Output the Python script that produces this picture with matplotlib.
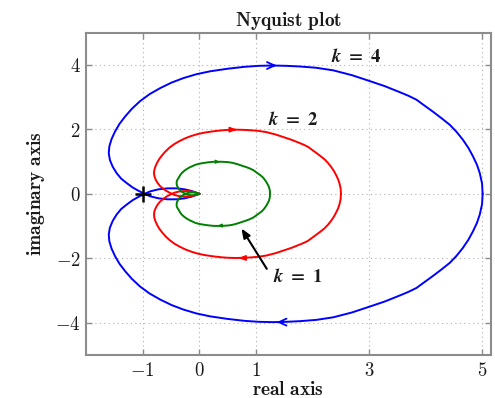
import numpy as np
import matplotlib
matplotlib.use("Agg")
import matplotlib.pyplot as plt

# upper half of each Nyquist curve (lower half is its mirror)
blue_re = [5.01, 5.00, 4.96, 4.91, 4.84, 4.76, 4.66, 4.55, 4.43, 4.28,
           4.13, 3.98, 3.84, 3.70, 3.55, 3.28, 3.01, 2.70, 2.37, 2.07,
           1.78, 1.54, 1.30, 1.05, 0.80, 0.50, 0.19, -0.05, -0.28, -0.49,
           -0.69, -0.88, -1.05, -1.19, -1.31, -1.41, -1.49, -1.55, -1.59, -1.60,
           -1.58, -1.53, -1.46, -1.38, -1.28, -1.18, -1.08, -0.97, -0.86, -0.72,
           -0.56, -0.40, -0.26, -0.14, -0.06, 0.0]
blue_im = [0.00, 0.32, 0.64, 0.90, 1.16, 1.42, 1.68, 1.92, 2.14, 2.35,
           2.55, 2.74, 2.92, 3.04, 3.15, 3.34, 3.50, 3.68, 3.83, 3.91,
           3.95, 3.97, 3.98, 3.97, 3.94, 3.88, 3.80, 3.71, 3.59, 3.45,
           3.28, 3.09, 2.87, 2.64, 2.40, 2.17, 1.93, 1.70, 1.47, 1.26,
           1.05, 0.84, 0.64, 0.47, 0.33, 0.20, 0.10, 0.00, -0.08, -0.14,
           -0.17, -0.17, -0.14, -0.09, -0.04, 0.0]

red_re = [2.505, 2.50, 2.48, 2.455, 2.42, 2.38, 2.33, 2.275, 2.215, 2.14,
          2.065, 1.99, 1.92, 1.85, 1.775, 1.64, 1.505, 1.35, 1.185, 1.035,
          0.89, 0.77, 0.65, 0.525, 0.40, 0.25, 0.095, -0.025, -0.14, -0.245,
          -0.345, -0.44, -0.525, -0.595, -0.655, -0.705, -0.745, -0.775, -0.795, -0.80,
          -0.79, -0.765, -0.73, -0.69, -0.64, -0.59, -0.54, -0.485, -0.43, -0.36,
          -0.28, -0.20, -0.13, -0.07, -0.03, 0.0]
red_im = [0.00, 0.16, 0.32, 0.45, 0.58, 0.71, 0.84, 0.96, 1.07, 1.175,
          1.275, 1.37, 1.46, 1.52, 1.575, 1.67, 1.75, 1.84, 1.915, 1.955,
          1.975, 1.985, 1.99, 1.985, 1.97, 1.94, 1.90, 1.855, 1.795, 1.725,
          1.64, 1.545, 1.435, 1.32, 1.20, 1.085, 0.965, 0.85, 0.735, 0.63,
          0.525, 0.42, 0.32, 0.235, 0.165, 0.10, 0.05, 0.0, -0.04, -0.07,
          -0.085, -0.085, -0.07, -0.045, -0.02, 0.0]

green_re = [1.25, 1.25, 1.24, 1.23, 1.21, 1.19, 1.165, 1.14, 1.11, 1.07,
            1.03, 0.995, 0.96, 0.925, 0.89, 0.82, 0.75, 0.675, 0.59, 0.52,
            0.445, 0.385, 0.325, 0.26, 0.20, 0.125, 0.05, -0.01, -0.07, -0.12,
            -0.17, -0.22, -0.26, -0.30, -0.33, -0.35, -0.37, -0.39, -0.40, -0.40,
            -0.395, -0.38, -0.365, -0.345, -0.32, -0.295, -0.27, -0.24, -0.215, -0.18,
            -0.14, -0.10, -0.065, -0.035, -0.015, 0.0]
green_im = [0.00, 0.08, 0.16, 0.225, 0.29, 0.355, 0.42, 0.48, 0.535, 0.59,
            0.64, 0.685, 0.73, 0.76, 0.79, 0.835, 0.875, 0.92, 0.96, 0.98,
            0.99, 0.995, 0.995, 0.995, 0.985, 0.97, 0.95, 0.93, 0.90, 0.86,
            0.82, 0.77, 0.72, 0.66, 0.60, 0.54, 0.48, 0.425, 0.37, 0.315,
            0.26, 0.21, 0.16, 0.12, 0.08, 0.05, 0.025, 0.0, -0.02, -0.035,
            -0.042, -0.042, -0.035, -0.022, -0.01, 0.0]

gains = ['4', '2', '1']
xticks = [-1, 0, 1, 3, 5]
yticks = [-4, -2, 0, 2, 4]

plt.rcParams['mathtext.fontset'] = 'cm'
plt.rcParams['mathtext.it'] = 'STIXGeneral:italic:bold'
plt.rcParams['mathtext.bf'] = 'STIXGeneral:bold'
plt.rcParams['mathtext.rm'] = 'STIXGeneral:bold'

txt = '#1a1a1a'
gray = '#8c8c8c'

fig = plt.figure(figsize=(4.95, 3.98), dpi=100)
ax = fig.add_axes([0.174, 0.108, 0.817, 0.81])

curves = [(blue_re, blue_im, '#0000ff'),
          (red_re, red_im, '#ff0000'),
          (green_re, green_im, '#008000')]
for re, im, col in curves:
    re = np.array(re)
    im = np.array(im)
    ax.plot(re, im, color=col, lw=1.4, solid_joinstyle='round')
    ax.plot(re, -im, color=col, lw=1.4, solid_joinstyle='round')

# arrows along the curves
ax.annotate('', xy=(1.42, 3.98), xytext=(1.20, 3.98),
            arrowprops=dict(arrowstyle='->,head_length=0.55,head_width=0.25', color='#0000ff', lw=1.3))
ax.annotate('', xy=(1.32, -3.98), xytext=(1.54, -3.98),
            arrowprops=dict(arrowstyle='->,head_length=0.55,head_width=0.25', color='#0000ff', lw=1.3))
ax.annotate('', xy=(0.72, 1.99), xytext=(0.56, 1.99),
            arrowprops=dict(arrowstyle='-|>,head_length=0.4,head_width=0.15', color='#ff0000', lw=1.2))
ax.annotate('', xy=(0.64, -1.99), xytext=(0.80, -1.99),
            arrowprops=dict(arrowstyle='-|>,head_length=0.4,head_width=0.15', color='#ff0000', lw=1.2))
ax.annotate('', xy=(0.36, 0.995), xytext=(0.28, 0.995),
            arrowprops=dict(arrowstyle='-|>,head_length=0.2,head_width=0.1', color='#008000', lw=1.0))
ax.annotate('', xy=(0.33, -0.985), xytext=(0.41, -0.985),
            arrowprops=dict(arrowstyle='-|>,head_length=0.2,head_width=0.1', color='#008000', lw=1.0))

# critical point
ax.plot([-1], [0], marker='+', color='black', ms=12, mew=1.8)

# gain labels
ax.text(2.33, 4.25, r'$k\ \mathbf{=\ %s}$' % gains[0], fontsize=13.5, color=txt, va='center',
        math_fontfamily='custom')
ax.text(1.22, 2.32, r'$k\ \mathbf{=\ %s}$' % gains[1], fontsize=13.5, color=txt, va='center',
        math_fontfamily='custom')
ax.text(1.30, -2.57, r'$k\ \mathbf{=\ %s}$' % gains[2], fontsize=13.5, color=txt, va='center',
        math_fontfamily='custom')
ax.annotate('', xy=(0.72, -1.0), xytext=(1.22, -2.40),
            arrowprops=dict(arrowstyle='-|>,head_length=0.55,head_width=0.22', color='black', lw=1.5))

ax.set_xlim(-2.0, 5.15)
ax.set_ylim(-5, 5)
ax.set_xticks(xticks)
ax.set_yticks(yticks)
ax.set_xticklabels([r'$\mathbf{%d}$' % v for v in xticks])
ax.set_yticklabels([r'$\mathbf{%d}$' % v for v in yticks])
ax.tick_params(direction='in', length=4, width=1, color=gray, labelsize=13.5, labelcolor=txt,
               top=True, right=True, pad=4)
ax.grid(True, linestyle=(0, (1, 3)), color='#b0b0b0', lw=0.8)
for s in ax.spines.values():
    s.set_color(gray)
    s.set_linewidth(1.5)

ax.set_title(r'$\mathbf{Nyquist\ plot}$', fontsize=14, color=txt, pad=5)
ax.set_xlabel(r'$\mathbf{real\ axis}$', fontsize=14, color=txt, labelpad=0)
ax.set_ylabel(r'$\mathbf{imaginary\ axis}$', fontsize=14, color=txt, labelpad=6)

fig.savefig('out.png', dpi=100)
